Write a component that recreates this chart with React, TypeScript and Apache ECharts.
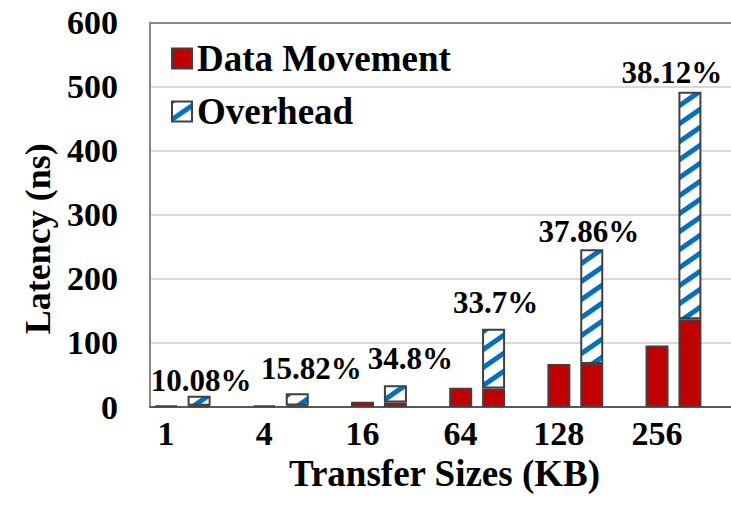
import React, { useEffect, useRef } from "react";
import * as echarts from "echarts";

const categories = ["1", "4", "16", "64", "128", "256"];
const dataMovementAlone = [2, 2.5, 8, 30, 67, 96];
const dataMovementStacked = [2, 2.5, 7, 29, 67, 137];
const overhead = [15.5, 19, 27, 93, 179, 355];
const percentLabels = ["10.08%", "15.82%", "34.8%", "33.7%", "37.86%", "38.12%"];
const yTicks = { min: 0, max: 600, interval: 100 };

// label nudges (style, not data)
const labelOffsets: number[][] = [[2, 0], [14, -9], [15, -11], [2, -11], [-3, -2], [-18, -4]];

const FONT = "Liberation Serif";
const RED = "#C00000";
const BLUE = "#0070C0";
const BORDER = "#404040";

function makeHatch(): HTMLCanvasElement {
  const W = 26;
  const H = 18;
  const c = document.createElement("canvas");
  c.width = W;
  c.height = H;
  const ctx = c.getContext("2d")!;
  ctx.fillStyle = "#ffffff";
  ctx.fillRect(0, 0, W, H);
  ctx.strokeStyle = BLUE;
  ctx.lineWidth = 5;
  for (let n = 0; n <= 2; n++) {
    ctx.beginPath();
    ctx.moveTo(-W, H * (n + 1));
    ctx.lineTo(2 * W, H * (n - 2));
    ctx.stroke();
  }
  return c;
}

export default function App() {
  const ref = useRef<HTMLDivElement>(null);
  useEffect(() => {
    document.body.style.margin = "0";
    document.body.style.overflow = "hidden";
    if (!ref.current) return;
    const chart = echarts.init(ref.current, undefined, { renderer: "svg" });
    const hatch = { image: makeHatch(), repeat: "repeat" };
    const barCommon = {
      type: "bar",
      xAxisIndex: 0,
      barWidth: 23,
      barGap: "43%",
    };
    const textBold = { fontWeight: "bold", fontFamily: FONT, color: "#000" };
    chart.setOption({
      animation: false,
      backgroundColor: "#ffffff",
      textStyle: { fontFamily: FONT },
      grid: {
        left: 150,
        right: 0,
        top: 22.5,
        bottom: 99,
      },
      legend: {
        data: ["Data Movement", "Overhead"],
        orient: "vertical",
        left: 171,
        top: 40,
        padding: 0,
        itemWidth: 20,
        itemHeight: 20,
        itemGap: 16,
        icon: "rect",
        textStyle: { fontSize: 37, ...textBold },
      },
      xAxis: [
        {
          type: "category",
          data: categories,
          name: "Transfer Sizes (KB)",
          nameLocation: "middle",
          nameGap: 40,
          nameTextStyle: { fontSize: 37, ...textBold },
          axisLine: { show: true, lineStyle: { color: "#595959", width: 2 } },
          axisTick: { show: false },
          splitLine: { show: false },
          axisLabel: {
            interval: 0,
            margin: 9,
            formatter: (v: string) => `{v|${v}}{s|\u00a0}`,
            rich: {
              v: { fontSize: 34, ...textBold },
              s: { width: 66, fontSize: 34 },
            },
            fontSize: 34,
            ...textBold,
          },
        },
        {
          type: "category",
          data: categories,
          position: "top",
          axisLine: { show: true, lineStyle: { color: "#898989", width: 2 } },
          axisTick: { show: false },
          splitLine: { show: false },
          axisLabel: { show: false },
        },
      ],
      yAxis: {
        type: "value",
        min: yTicks.min,
        max: yTicks.max,
        interval: yTicks.interval,
        name: "Latency (ns)",
        nameLocation: "middle",
        nameGap: 88,
        nameTextStyle: { fontSize: 36, padding: [0, 48, 0, 0], ...textBold },
        axisLine: { show: true, lineStyle: { color: "#898989", width: 2 } },
        axisTick: { show: false },
        axisLabel: { margin: 32, fontSize: 34, ...textBold },
        splitLine: { show: true, lineStyle: { color: "#D9D9D9", width: 2 } },
      },
      series: [
        {
          ...barCommon,
          name: "Data Movement",
          data: dataMovementAlone,
          itemStyle: { color: RED, borderColor: BORDER, borderWidth: 2 },
        },
        {
          ...barCommon,
          name: "Data Movement",
          stack: "right",
          data: dataMovementStacked,
          itemStyle: { color: RED, borderColor: BORDER, borderWidth: 2 },
        },
        {
          ...barCommon,
          name: "Overhead",
          stack: "right",
          data: overhead.map((v, i) => ({ value: v, label: { offset: labelOffsets[i] } })),
          itemStyle: { color: hatch, borderColor: BORDER, borderWidth: 2 },
          label: {
            show: true,
            position: "top",
            distance: 0,
            formatter: (p: any) => percentLabels[p.dataIndex],
            fontSize: 31,
            ...textBold,
          },
        },
        {
          ...barCommon,
          name: "spacer",
          silent: true,
          data: categories.map(() => 0),
          itemStyle: { opacity: 0, borderWidth: 0 },
        },
      ],
    });
    return () => chart.dispose();
  }, []);
  return <div ref={ref} style={{ width: 739, height: 506 }} />;
}
